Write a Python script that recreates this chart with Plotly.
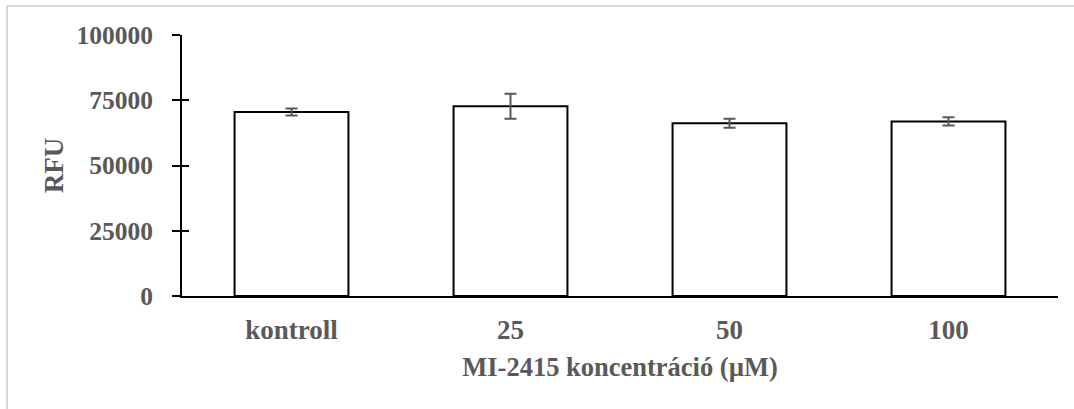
import plotly.graph_objects as go

# Fluorescence readout per treatment group
categories = ["kontroll", "25", "50", "100"]
rfu_mean = [70500, 72700, 66200, 66900]
rfu_err = [1300, 4800, 1700, 1600]
y_ticks = [0, 25000, 50000, 75000, 100000]

W, H = 1074, 409
ML, MR, MT, MB = 182, 16, 35, 113
PW, PH = W - ML - MR, H - MT - MB

TEXT = "#595959"
FONT = "Liberation Serif, Times New Roman, serif"

fig = go.Figure()
fig.add_trace(go.Bar(
    x=categories,
    y=rfu_mean,
    width=0.52,
    marker=dict(color="white", line=dict(color="black", width=2)),
    error_y=dict(type="data", array=rfu_err, visible=True,
                 color=TEXT, thickness=2, width=6),
    showlegend=False,
    hoverinfo="skip",
))
# invisible trace to carry the inner half of the crossing y ticks
fig.add_trace(go.Scatter(x=categories, y=rfu_mean, yaxis="y2", mode="none",
                         showlegend=False, hoverinfo="skip"))


def px_to_paper_x(px):
    return (px - ML) / PW


def px_to_paper_y(py):
    return (H - MB - py) / PH


# light outer frame of the chart area
fig.add_shape(type="rect", xref="paper", yref="paper",
              x0=px_to_paper_x(7), x1=px_to_paper_x(W + 20),
              y0=px_to_paper_y(H + 20), y1=px_to_paper_y(6),
              line=dict(color="#d9d9d9", width=2), fillcolor="rgba(0,0,0,0)",
              layer="below")

fig.update_layout(
    width=W, height=H,
    margin=dict(l=ML, r=MR, t=MT, b=MB),
    paper_bgcolor="white", plot_bgcolor="white",
    font=dict(family=FONT, color=TEXT, size=25),
    bargap=0.48,
    xaxis=dict(
        range=[-0.5, 3.5],
        showline=True, linecolor="black", linewidth=2,
        ticks="", showgrid=False, zeroline=False,
        tickfont=dict(family=FONT, color=TEXT, size=27, weight="bold"),
        ticklabelstandoff=9,
        title=dict(text="<b>MI-2415 koncentráció (µM)</b>",
                   font=dict(family=FONT, color=TEXT, size=26.5), standoff=13),
    ),
    yaxis=dict(
        range=[0, 100000],
        tickvals=y_ticks, ticktext=[str(v) for v in y_ticks],
        showline=True, linecolor="black", linewidth=2,
        ticks="outside", ticklen=8, tickwidth=2, tickcolor="black",
        showgrid=False, zeroline=False,
        tickfont=dict(family=FONT, color=TEXT, size=25.5, weight="bold"),
        ticklabelstandoff=14,
        title=dict(text="<b>RFU</b>",
                   font=dict(family=FONT, color=TEXT, size=27), standoff=5),
    ),
    yaxis2=dict(
        range=[0, 100000], overlaying="y", side="left",
        tickvals=y_ticks, showticklabels=False,
        ticks="inside", ticklen=7, tickwidth=2, tickcolor="black",
        showline=False, showgrid=False, zeroline=False,
    ),
)

fig.write_html("out.html")
